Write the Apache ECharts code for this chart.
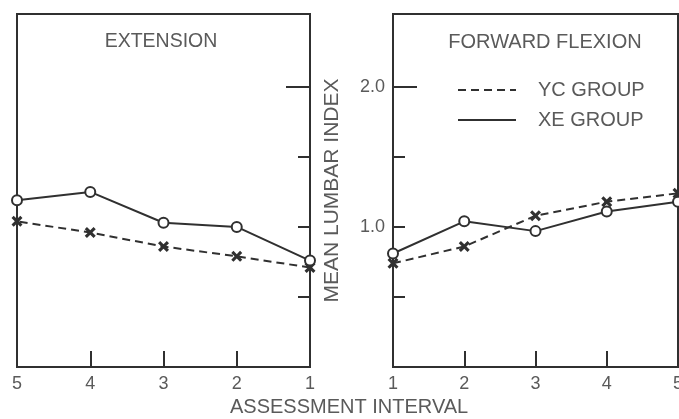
<!DOCTYPE html>
<html><head><meta charset="utf-8">
<script src="https://cdn.jsdelivr.net/npm/echarts@6/dist/echarts.min.js"></script>
<style>html,body{margin:0;padding:0;background:#fff}#c{width:679px;height:419px}</style>
</head><body><div id="c"></div>
<script>
// ---- data ----
const intervals = [1, 2, 3, 4, 5];
const extensionXE = [0.76, 1.00, 1.03, 1.25, 1.19];
const extensionYC = [0.71, 0.79, 0.86, 0.96, 1.04];
const flexionXE = [0.81, 1.04, 0.97, 1.11, 1.18];
const flexionYC = [0.74, 0.86, 1.08, 1.18, 1.24];
const yMin = 0;
const yMax = 2.52;
const yTickValues = [0.5, 1.0, 1.5];
const yLongTickValues = [2.0];
const yLabelValues = [1.0, 2.0];
const panelTitles = ['EXTENSION', 'FORWARD FLEXION'];
const seriesNames = ['YC GROUP', 'XE GROUP'];
const yName = 'MEAN LUMBAR INDEX';
const xName = 'ASSESSMENT INTERVAL';

// ---- styling ----
const INK = '#303030';
const TXT = '#5a5a5a';
const FONT = 'Liberation Sans, Arial, sans-serif';
const xMarker = 'path://M0,2L2,0L5,3L8,0L10,2L7,5L10,8L8,10L5,7L2,10L0,8L3,5Z';

const pairs = (vals) => intervals.map((x, i) => [x, vals[i]]);

const chart = echarts.init(document.getElementById('c'), null, {renderer: 'canvas'});

function xAxisFor(grid, inverse) {
  return {
    type: 'value', gridIndex: grid, min: 1, max: 5, interval: 1, inverse: inverse,
    axisLine: {show: false},
    axisTick: {show: true, inside: true, length: 16, lineStyle: {color: INK, width: 2}},
    axisLabel: {color: TXT, fontSize: 18, fontFamily: FONT, margin: 8},
    splitLine: {show: false}
  };
}
function yAxisFor(grid, pos, ticks, len, labels, name) {
  return {
    type: 'value', gridIndex: grid, position: pos, min: yMin, max: yMax,
    axisLine: {show: false},
    axisTick: {show: true, inside: true, length: len, customValues: ticks, lineStyle: {color: INK, width: 2}},
    axisLabel: labels ? {show: true, customValues: labels, color: TXT, fontSize: 18, fontFamily: FONT, margin: 8,
      formatter: (v) => v.toFixed(1)} : {show: false},
    splitLine: {show: false},
    name: name || '',
    nameLocation: 'middle', nameGap: 50, nameRotate: 90,
    nameTextStyle: {color: TXT, fontSize: 21, fontFamily: FONT}
  };
}
function ycSeries(x, y, vals) {
  return {
    name: seriesNames[0], type: 'line', xAxisIndex: x, yAxisIndex: y, data: pairs(vals),
    symbol: xMarker, symbolSize: 11, z: 2,
    lineStyle: {color: INK, width: 2, type: [8, 5]},
    itemStyle: {color: INK}
  };
}
function xeSeries(x, y, vals) {
  return {
    name: seriesNames[1], type: 'line', xAxisIndex: x, yAxisIndex: y, data: pairs(vals),
    symbol: 'emptyCircle', symbolSize: 10, z: 3,
    lineStyle: {color: INK, width: 2, type: 'solid'},
    itemStyle: {color: INK, borderColor: INK, borderWidth: 2}
  };
}

chart.setOption({
  animation: false,
  backgroundColor: '#fff',
  title: [
    {text: panelTitles[0], left: 161, top: 32, textAlign: 'center', padding: 0,
     textStyle: {color: TXT, fontSize: 19.5, fontWeight: 'normal', fontFamily: FONT}},
    {text: panelTitles[1], left: 545, top: 32, textAlign: 'center', padding: 0,
     textStyle: {color: TXT, fontSize: 20, fontWeight: 'normal', fontFamily: FONT}}
  ],
  legend: {
    orient: 'vertical', left: 457, top: 80, padding: 0,
    itemWidth: 58, itemHeight: 14, itemGap: 10,
    itemStyle: {opacity: 0},
    textStyle: {color: TXT, fontSize: 20, fontFamily: FONT, padding: [0, 0, 0, 17]},
    data: seriesNames
  },
  grid: [
    {left: 17, right: 369, top: 14, bottom: 52, show: true, borderColor: INK, borderWidth: 2, outerBoundsMode: 'none'},
    {left: 393, right: 1, top: 14, bottom: 52, show: true, borderColor: INK, borderWidth: 2, outerBoundsMode: 'none'}
  ],
  xAxis: [xAxisFor(0, true), xAxisFor(1, false)],
  yAxis: [
    yAxisFor(0, 'right', yTickValues, 12, null),
    yAxisFor(0, 'right', yLongTickValues, 24, null),
    yAxisFor(1, 'left', yTickValues, 12, yLabelValues, yName),
    yAxisFor(1, 'left', yLongTickValues, 24, null)
  ],
  graphic: [{
    type: 'text', left: 230, top: 397, z: 10,
    style: {text: xName, fill: TXT, fontSize: 20, fontFamily: FONT}
  }],
  series: [
    ycSeries(0, 0, extensionYC),
    xeSeries(0, 0, extensionXE),
    ycSeries(1, 2, flexionYC),
    xeSeries(1, 2, flexionXE)
  ]
});
</script></body></html>
